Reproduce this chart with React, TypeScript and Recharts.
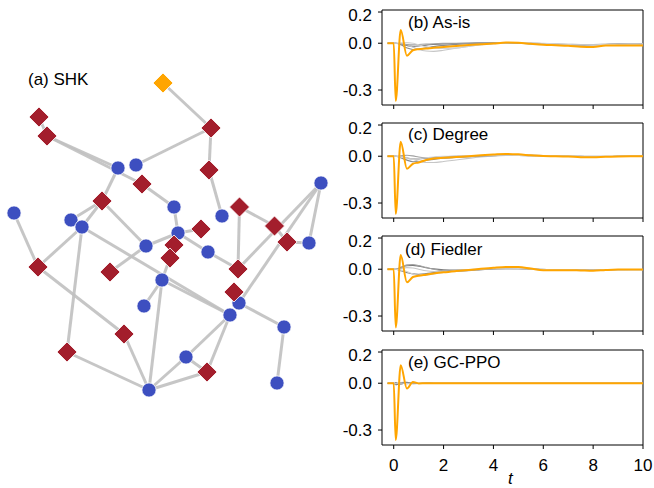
import { Line, LineChart, ReferenceArea, Scatter, ScatterChart, XAxis, YAxis } from 'recharts';

const FONT = '"Liberation Sans", Arial, Helvetica, sans-serif';

// ---- network layout (a) ----
const blueIds = ['b1', 'b2', 'b3', 'b4', 'b5', 'b6', 'b7', 'b8', 'b9', 'b10', 'b11', 'b12', 'b13', 'b14', 'b15', 'b16', 'b17', 'b18', 'b19', 'b20'];
const blueX = [118, 136, 321, 14, 174, 222, 71, 82, 178, 309, 146, 208, 162, 239, 144, 230, 284, 186, 149, 277];
const blueY = [168, 165, 183, 213, 207, 216, 220, 227, 233, 243, 246, 252, 280, 303, 306, 315, 327, 357, 390, 383];

const redIds = ['r1', 'r2', 'r3', 'r4', 'r5', 'r6', 'r7', 'r8', 'r9', 'r10', 'r11', 'r12', 'r13', 'r14', 'r15', 'r16', 'r17', 'r18', 'r19'];
const redX = [39, 47, 211, 209, 142, 102, 239.5, 201, 274.5, 287, 174, 170, 38, 110, 238, 234, 124, 67, 207];
const redY = [117, 136, 128, 170, 184, 201, 207, 229, 226, 242, 245, 258, 267, 272, 269, 292, 334, 352, 372];

const sourceIds = ['s'];
const sourceX = [163];
const sourceY = [83];

const edges: [string, string][] = [
    ['s', 'r3'], ['r3', 'b2'], ['r3', 'r4'], ['r4', 'b6'],
    ['r1', 'r2'], ['r2', 'b1'], ['r2', 'r5'], ['r5', 'b5'],
    ['b1', 'r6'], ['r6', 'b11'], ['r6', 'b7'], ['r6', 'b8'],
    ['b4', 'r13'], ['r13', 'b8'], ['r13', 'r17'], ['b8', 'r18'], ['b8', 'b16'],
    ['b5', 'b9'], ['b9', 'r8'], ['b9', 'b12'], ['b11', 'b9'], ['r14', 'b11'],
    ['b12', 'r15'], ['r7', 'r15'], ['r7', 'r9'], ['r9', 'r10'], ['r10', 'b10'],
    ['b3', 'r15'], ['b3', 'b14'], ['b3', 'b10'],
    ['b14', 'b17'], ['b17', 'b20'], ['r16', 'b14'],
    ['r11', 'b9'], ['r12', 'b13'], ['b13', 'b15'], ['b13', 'b16'], ['b13', 'b19'],
    ['r17', 'b19'], ['r18', 'b19'], ['b19', 'b18'], ['b19', 'r19'], ['b18', 'r19'], ['b18', 'b16'], ['r19', 'b16'],
];

// ---- dynamics (b)-(e) ----
const T = [-0.25, 0, 0.08, 0.28, 0.53, 0.77, 1.0, 1.3, 1.6, 2.0, 2.5, 3.0, 3.5, 4.0, 4.5, 5.0, 5.5, 6.0, 6.5, 7.0, 7.5, 8.0, 8.5, 9.0, 9.5, 10.0];
const X_TICKS = [0, 2, 4, 6, 8, 10];
const Y_TICKS = [-0.3, 0, 0.2];
const X_MIN = -0.47;
const Y_MIN = -0.396;
const Y_MAX = 0.213;

const orangeB = [0, 0, -0.37, 0.085, -0.08, -0.045, -0.038, -0.034, -0.029, -0.024, -0.018, -0.012, -0.007, -0.002, 0.004, 0.003, -0.004, -0.01, -0.013, -0.016, -0.022, -0.024, -0.014, -0.014, -0.015, -0.015];
const grayB = [
    [0, 0, 0, -0.005, -0.015, -0.02, -0.018, -0.012, -0.008, -0.004, -0.002, 0, 0.002, 0.003, 0.003, 0, -0.004, -0.006, -0.008, -0.009, -0.01, -0.01, -0.008, -0.006, -0.005, -0.004],
    [0, 0, 0, -0.01, -0.03, -0.04, -0.038, -0.03, -0.022, -0.014, -0.008, -0.003, 0.001, 0.003, 0.004, 0.002, -0.002, -0.006, -0.01, -0.012, -0.012, -0.01, -0.008, -0.006, -0.005, -0.005],
    [0, 0, 0, -0.002, -0.01, -0.025, -0.04, -0.05, -0.052, -0.045, -0.032, -0.02, -0.01, -0.003, 0.002, 0.004, 0.002, -0.002, -0.006, -0.009, -0.01, -0.009, -0.007, -0.005, -0.004, -0.004],
    [0, 0, 0, -0.003, -0.008, -0.01, -0.008, -0.005, -0.003, -0.001, 0, 0.001, 0.002, 0.002, 0.001, 0, -0.002, -0.004, -0.006, -0.007, -0.008, -0.008, -0.007, -0.006, -0.005, -0.004],
    [0, 0, 0, 0.002, 0.004, 0, -0.01, -0.022, -0.03, -0.034, -0.03, -0.02, -0.01, -0.002, 0.003, 0.005, 0.004, 0, -0.004, -0.008, -0.01, -0.01, -0.008, -0.007, -0.006, -0.005],
];

const orangeC = [0, 0, -0.37, 0.093, -0.08, -0.048, -0.04, -0.024, -0.015, -0.01, -0.005, 0, 0.006, 0.011, 0.015, 0.012, 0.006, 0.001, 0, -0.002, -0.006, -0.007, -0.003, -0.001, 0, 0];
const grayC = [
    [0, 0, 0, -0.004, -0.012, -0.018, -0.018, -0.013, -0.008, -0.004, -0.001, 0.001, 0.003, 0.004, 0.005, 0.005, 0.004, 0.002, 0, -0.001, -0.002, -0.002, -0.002, -0.001, -0.001, -0.001],
    [0, 0, 0, -0.01, -0.025, -0.035, -0.034, -0.027, -0.02, -0.013, -0.007, -0.002, 0.002, 0.005, 0.007, 0.008, 0.006, 0.004, 0.002, 0, -0.001, -0.002, -0.002, -0.001, -0.001, -0.001],
    [0, 0, 0, -0.002, -0.008, -0.02, -0.032, -0.04, -0.04, -0.034, -0.024, -0.014, -0.005, 0.002, 0.006, 0.008, 0.007, 0.005, 0.002, 0, -0.001, -0.002, -0.002, -0.001, -0.001, -0.001],
    [0, 0, 0, 0.003, 0.006, 0.002, -0.005, -0.01, -0.012, -0.011, -0.008, -0.004, 0, 0.003, 0.005, 0.005, 0.004, 0.002, 0.001, 0, -0.001, -0.001, -0.001, -0.001, 0, 0],
    [0, 0, 0, -0.006, -0.015, -0.02, -0.016, -0.01, -0.005, -0.001, 0.002, 0.004, 0.005, 0.006, 0.006, 0.005, 0.004, 0.003, 0.002, 0.001, 0, 0, 0, 0, 0, 0],
];

const orangeD = [0, 0, -0.373, 0.091, -0.084, -0.05, -0.042, -0.035, -0.028, -0.02, -0.012, -0.005, 0.003, 0.01, 0.015, 0.014, 0.004, -0.006, -0.007, -0.006, -0.008, -0.01, -0.005, -0.002, -0.002, -0.002];
const grayD = [
    [0, 0, 0, 0.012, 0.022, 0.025, 0.02, 0.01, 0.002, -0.004, -0.006, -0.004, 0, 0.003, 0.004, 0.003, 0, -0.003, -0.004, -0.004, -0.004, -0.004, -0.003, -0.002, -0.002, -0.002],
    [0, 0, 0, -0.01, -0.022, -0.03, -0.032, -0.028, -0.022, -0.016, -0.01, -0.005, 0, 0.004, 0.006, 0.005, 0.002, -0.002, -0.004, -0.005, -0.005, -0.005, -0.004, -0.003, -0.003, -0.003],
    [0, 0, 0, 0.005, 0.01, 0.008, 0, -0.01, -0.015, -0.016, -0.012, -0.006, -0.001, 0.003, 0.005, 0.004, 0.001, -0.002, -0.003, -0.004, -0.004, -0.004, -0.003, -0.003, -0.002, -0.002],
    [0, 0, 0, 0.008, 0.028, 0.03, 0.024, 0.012, 0, -0.01, -0.014, -0.01, -0.004, 0.001, 0.004, 0.004, 0.002, -0.001, -0.003, -0.004, -0.004, -0.004, -0.003, -0.002, -0.002, -0.002],
    [0, 0, 0, -0.004, -0.015, -0.03, -0.04, -0.038, -0.03, -0.02, -0.01, -0.003, 0.002, 0.005, 0.006, 0.005, 0.002, -0.001, -0.003, -0.004, -0.005, -0.005, -0.004, -0.003, -0.003, -0.003],
];

const orangeE = [0, 0, -0.364, 0.116, -0.034, 0.008, -0.001, 0, 0, 0, 0, 0, 0, 0, 0, 0, 0, 0, 0, 0, 0, 0, 0, 0, 0, 0];
const grayE = [
    [0, 0, -0.01, 0.004, 0.006, -0.003, -0.002, 0.001, 0, 0, 0, 0, 0, 0, 0, 0, 0, 0, 0, 0, 0, 0, 0, 0, 0, 0],
    [0, 0, 0.004, -0.006, 0.005, 0.003, -0.002, 0, 0, 0, 0, 0, 0, 0, 0, 0, 0, 0, 0, 0, 0, 0, 0, 0, 0, 0],
    [0, 0, -0.003, 0.003, -0.004, 0.002, 0.001, 0, 0, 0, 0, 0, 0, 0, 0, 0, 0, 0, 0, 0, 0, 0, 0, 0, 0, 0],
];

const grayColors = ['#7a7a7a', '#8a8a8a', '#c6c6c6', '#a2a2a2', '#d2d2d2'];

const panels = [
    { top: 10, label: '(b) As-is', labelLeft: 408, labelTop: 13, orange: orangeB, grays: grayB },
    { top: 123, label: '(c) Degree', labelLeft: 408, labelTop: 125, orange: orangeC, grays: grayC },
    { top: 236, label: '(d) Fiedler', labelLeft: 405, labelTop: 240, orange: orangeD, grays: grayD },
    { top: 350, label: '(e) GC-PPO', labelLeft: 408, labelTop: 353, orange: orangeE, grays: grayE },
];

type Node = { id: string; x: number; y: number };

function toNodes(ids: string[], xs: number[], ys: number[]): Node[] {
    return ids.map((id, i) => ({ id, x: xs[i], y: ys[i] }));
}

const blueNodes = toNodes(blueIds, blueX, blueY);
const redNodes = toNodes(redIds, redX, redY);
const sourceNodes = toNodes(sourceIds, sourceX, sourceY);
const nodeMap = new Map([...blueNodes, ...redNodes, ...sourceNodes].map((n) => [n.id, n]));

const emptyShape = () => <g />;

function circleShape(props: any) {
    return <circle cx={props.cx} cy={props.cy} r={7.1} fill="#3d4fc0" stroke="#ffffff" strokeWidth={0.8} />;
}

function diamondShape(color: string) {
    return (props: any) => {
        const h = 10;
        const { cx, cy } = props;
        return <path d={`M${cx},${cy - h}L${cx + h},${cy}L${cx},${cy + h}L${cx - h},${cy}Z`} fill={color} stroke="#ffffff" strokeWidth={0.8} />;
    };
}

function Network() {
    return (
        <div style={{ position: 'absolute', left: 0, top: 0 }}>
            <ScatterChart width={340} height={488} margin={{ top: 0, right: 0, bottom: 0, left: 0 }}>
                <XAxis type="number" dataKey="x" domain={[0, 340]} hide />
                <YAxis type="number" dataKey="y" domain={[0, 488]} reversed hide />
                {edges.map(([a, b], i) => (
                    <Scatter
                        key={`e${i}`}
                        data={[nodeMap.get(a), nodeMap.get(b)]}
                        line={{ stroke: '#c0c0c0', strokeWidth: 3, strokeOpacity: 0.9 }}
                        shape={emptyShape}
                        isAnimationActive={false}
                    />
                ))}
                <Scatter data={blueNodes} shape={circleShape} isAnimationActive={false} />
                <Scatter data={redNodes} shape={diamondShape('#a31e2c')} isAnimationActive={false} />
                <Scatter data={sourceNodes} shape={diamondShape('#ffa500')} isAnimationActive={false} />
            </ScatterChart>
            <div style={{ position: 'absolute', left: 28, top: 70, fontFamily: FONT, fontSize: 17, lineHeight: '20px', whiteSpace: 'nowrap' }}>(a) SHK</div>
        </div>
    );
}

interface PanelProps {
    top: number;
    orange: number[];
    grays: number[][];
    showX: boolean;
}

function Panel({ top, orange, grays, showX }: PanelProps) {
    const rows = T.map((t, i) => {
        const row: Record<string, number> = { t, o: orange[i] };
        grays.forEach((g, j) => {
            row[`g${j}`] = g[i];
        });
        return row;
    });
    const axisH = showX ? 34 : 6;

    return (
        <div style={{ position: 'absolute', left: 340, top: top - 5 }}>
            <LineChart width={314} height={5 + 95 + axisH} data={rows} margin={{ top: 5, right: 11, bottom: 0, left: 0 }}>
                <XAxis
                    dataKey="t"
                    type="number"
                    domain={[X_MIN, 10]}
                    ticks={X_TICKS}
                    allowDataOverflow
                    axisLine={false}
                    tickSize={4}
                    tickMargin={10}
                    tickLine={{ stroke: '#000', strokeWidth: 1 }}
                    height={axisH}
                    tickFormatter={(v) => (showX ? String(v) : '')}
                    tick={{ fill: '#000', fontSize: 17, fontFamily: FONT }}
                />
                <YAxis
                    type="number"
                    domain={[Y_MIN, Y_MAX]}
                    ticks={Y_TICKS}
                    allowDataOverflow
                    width={42}
                    axisLine={false}
                    tickSize={4}
                    tickMargin={6}
                    tickLine={{ stroke: '#000', strokeWidth: 1 }}
                    tickFormatter={(v) => Number(v).toFixed(1)}
                    tick={{ fill: '#000', fontSize: 17, fontFamily: FONT }}
                />
                <ReferenceArea x1={X_MIN} x2={10} y1={Y_MIN} y2={Y_MAX} fill="none" fillOpacity={0} stroke="#000" strokeWidth={1} ifOverflow="visible" />
                {grays.map((_, j) => (
                    <Line
                        key={`g${j}`}
                        type="monotone"
                        dataKey={`g${j}`}
                        stroke={grayColors[j % grayColors.length]}
                        strokeWidth={1.1}
                        dot={false}
                        isAnimationActive={false}
                    />
                ))}
                <Line type="monotone" dataKey="o" stroke="#ffa500" strokeWidth={2} dot={false} isAnimationActive={false} />
            </LineChart>
        </div>
    );
}

export default function App() {
    return (
        <div style={{ position: 'absolute', left: 0, top: 0, width: 654, height: 488, background: '#ffffff', overflow: 'hidden' }}>
            <Network />
            {panels.map((p, i) => (
                <Panel key={p.label} top={p.top} orange={p.orange} grays={p.grays} showX={i === panels.length - 1} />
            ))}
            {panels.map((p) => (
                <div
                    key={`lbl-${p.label}`}
                    style={{ position: 'absolute', left: p.labelLeft, top: p.labelTop, fontFamily: FONT, fontSize: 17, lineHeight: '20px', whiteSpace: 'nowrap' }}
                >
                    {p.label}
                </div>
            ))}
            <div style={{ position: 'absolute', left: 508, top: 470, fontFamily: FONT, fontSize: 17, fontStyle: 'italic', lineHeight: '17px' }}>t</div>
        </div>
    );
}
